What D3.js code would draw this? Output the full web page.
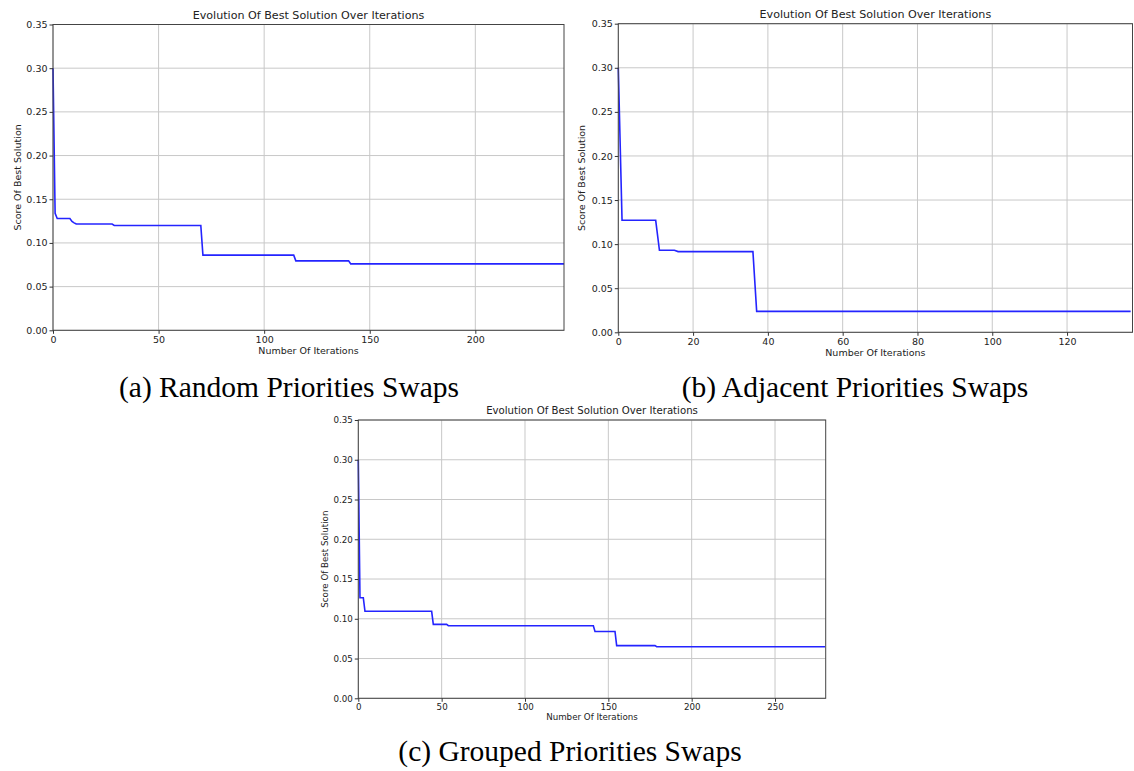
<meta charset="utf-8">
<style>
  body { margin: 0; background: #fff; }
  .caption { font-family: "Liberation Serif", "Times New Roman", serif; fill: #000; }
  .axis text { font-family: "DejaVu Sans", sans-serif; fill: #222; }
  .axis path, .axis line { stroke: #333; }
</style>
<svg width="1134" height="771" id="fig"></svg>
<script src="https://cdn.jsdelivr.net/npm/d3@7"></script>
<script>
// (a) Random Priorities Swaps
var iterA  = [0, 1, 2, 8, 9, 10, 11, 28, 29, 70, 71, 114, 115, 140, 141, 242];
var scoreA = [0.300, 0.134, 0.128, 0.128, 0.1245, 0.123, 0.1216, 0.1216, 0.120, 0.120, 0.086, 0.086, 0.0795, 0.0795, 0.076, 0.076];
// (b) Adjacent Priorities Swaps
var iterB  = [0, 1, 10, 11, 15, 16, 36, 37, 137];
var scoreB = [0.300, 0.127, 0.127, 0.093, 0.093, 0.0915, 0.0915, 0.0237, 0.0237];
// (c) Grouped Priorities Swaps
var iterC  = [0, 1, 3, 4, 44, 45, 53, 54, 141, 142, 154, 155, 178, 179, 280];
var scoreC = [0.300, 0.1265, 0.1265, 0.1094, 0.1094, 0.093, 0.093, 0.0913, 0.0913, 0.084, 0.084, 0.0662, 0.0662, 0.0649, 0.0649];

var xTicksA = [0, 50, 100, 150, 200];
var xTicksB = [0, 20, 40, 60, 80, 100, 120];
var xTicksC = [0, 50, 100, 150, 200, 250];
var yTicks = [0, 0.05, 0.10, 0.15, 0.20, 0.25, 0.30, 0.35];

var titleText = "Evolution Of Best Solution Over Iterations";
var xLabel = "Number Of Iterations";
var yLabel = "Score Of Best Solution";

var svg = d3.select("#fig");

function drawPanel(p) {
	var data = p.iter.map(function(d, i) { return {it: d, v: p.score[i]}; });
	var w = p.right - p.left, h = p.bottom - p.top;
	var x = d3.scaleLinear().domain([0, p.xmax]).range([0, w]);
	var y = d3.scaleLinear().domain([0, 0.35]).range([h, 0]);
	var fs = p.fs;

	var g = svg.append("g").attr("transform", "translate(" + p.left + "," + p.top + ")");

	// grid
	g.append("g").selectAll("line.vg").data(p.xticks).enter().append("line")
		.attr("x1", function(d) { return x(d); }).attr("x2", function(d) { return x(d); })
		.attr("y1", 0).attr("y2", h)
		.attr("stroke", "#c8c8c8").attr("stroke-width", 1);
	g.append("g").selectAll("line.hg").data(yTicks).enter().append("line")
		.attr("y1", function(d) { return y(d); }).attr("y2", function(d) { return y(d); })
		.attr("x1", 0).attr("x2", w)
		.attr("stroke", "#c8c8c8").attr("stroke-width", 1);

	// line
	var line = d3.line().x(function(d) { return x(d.it); }).y(function(d) { return y(d.v); });
	g.append("path").datum(data).attr("d", line)
		.attr("fill", "none").attr("stroke", "#2424ff").attr("stroke-width", 1.6);

	// frame
	g.append("rect").attr("width", w).attr("height", h)
		.attr("fill", "none").attr("stroke", "#444").attr("stroke-width", 1);

	var xAxis = d3.axisBottom(x).tickValues(p.xticks).tickFormat(d3.format("d")).tickSize(3.5).tickPadding(2);
	var yAxis = d3.axisLeft(y).tickValues(yTicks).tickFormat(d3.format(".2f")).tickSize(3.5).tickPadding(2);

	g.append("g").attr("class", "axis").attr("transform", "translate(0," + h + ")").call(xAxis)
		.call(function(s) { s.select(".domain").remove(); s.selectAll("text").style("font-size", fs + "px"); });
	g.append("g").attr("class", "axis").call(yAxis)
		.call(function(s) { s.select(".domain").remove(); s.selectAll("text").style("font-size", fs + "px"); });

	g.append("text").attr("x", w / 2).attr("y", -6).attr("text-anchor", "middle")
		.style("font-family", "DejaVu Sans, sans-serif").style("font-size", (fs * 1.17) + "px").attr("fill", "#222")
		.text(titleText);
	g.append("text").attr("x", w / 2).attr("y", h + fs * 2.45).attr("text-anchor", "middle")
		.style("font-family", "DejaVu Sans, sans-serif").style("font-size", fs + "px").attr("fill", "#222")
		.text(xLabel);
	g.append("text").attr("transform", "translate(" + (-p.ylabOff) + "," + (h / 2) + ") rotate(-90)")
		.attr("text-anchor", "middle")
		.style("font-family", "DejaVu Sans, sans-serif").style("font-size", fs + "px").attr("fill", "#222")
		.text(yLabel);

	svg.append("text").attr("class", "caption")
		.attr("x", p.capX).attr("y", p.capY).attr("text-anchor", "middle")
		.style("font-size", "29.5px")
		.text(p.caption);
}

drawPanel({iter: iterA, score: scoreA, xticks: xTicksA, xmax: 242,
	left: 53, right: 564, top: 24.5, bottom: 330.3, fs: 9.5, ylabOff: 32,
	caption: "(a) Random Priorities Swaps", capX: 289, capY: 397});
drawPanel({iter: iterB, score: scoreB, xticks: xTicksB, xmax: 137.5,
	left: 618.3, right: 1132.5, top: 23.7, bottom: 332.3, fs: 9.5, ylabOff: 33,
	caption: "(b) Adjacent Priorities Swaps", capX: 855, capY: 397});
drawPanel({iter: iterC, score: scoreC, xticks: xTicksC, xmax: 280.4,
	left: 358.3, right: 825.7, top: 420, bottom: 698.3, fs: 8.7, ylabOff: 30,
	caption: "(c) Grouped Priorities Swaps", capX: 570, capY: 761});
</script>
